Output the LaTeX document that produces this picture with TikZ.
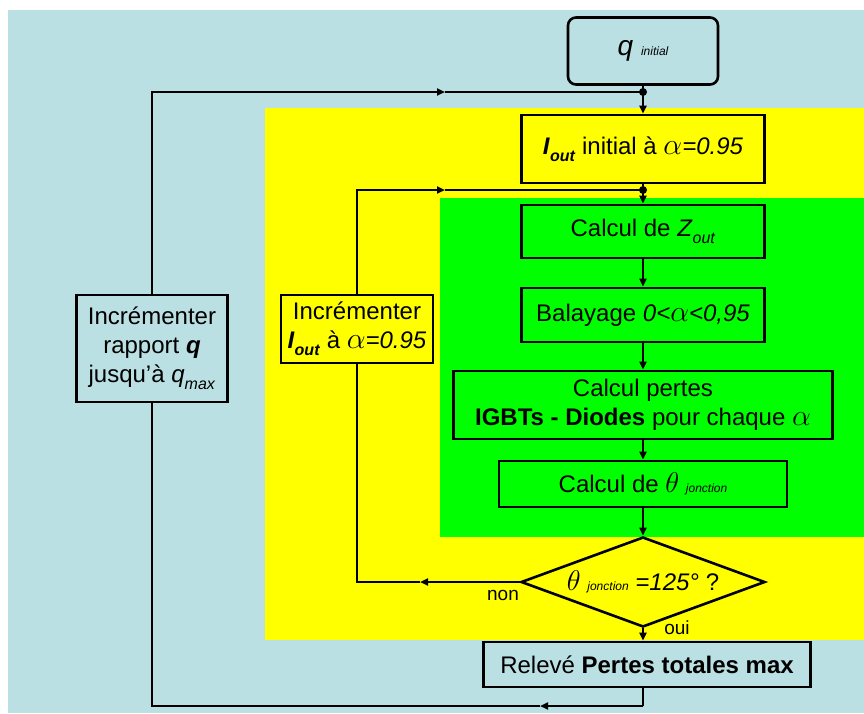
\documentclass[tikz,border=0pt]{standalone}
\usepackage{fontspec}
\setmainfont{Liberation Sans}
\usetikzlibrary{arrows.meta,shapes.geometric}
\definecolor{bgblue}{RGB}{187,224,227}
\definecolor{ylw}{RGB}{255,255,0}
\definecolor{grn}{RGB}{0,255,0}
\newcommand{\subl}[1]{\raisebox{-0.3em}{\fontsize{16}{16}\selectfont #1}}
\newcommand{\subs}[1]{{\fontsize{12}{12}\selectfont\itshape #1}}
\newcommand{\mainsize}{\fontsize{24}{29}\selectfont}
\newcommand{\myal}{\scalebox{1.2}{$\alpha$}}
\newcommand{\myth}{\scalebox{1.15}{$\theta$}}
\tikzset{
  box/.style={draw=black, line width=2.6pt, inner sep=0pt, align=center, font=\mainsize},
  conn/.style={line width=2pt},
  arr/.style={conn, -{Triangle[length=8pt,width=7pt]}},
  lbl/.style={font=\fontsize{19}{21}\selectfont, inner sep=0pt}
}
\begin{document}
\begin{tikzpicture}[x=1pt,y=-1pt]
\useasboundingbox (0,0) rectangle (864,713);
\fill[white] (0,0) rectangle (864,713);
\fill[bgblue] (8,10) rectangle (864,713);
\fill[ylw] (265,108) rectangle (864,640);
\fill[grn] (440,198) rectangle (864,537);

\node[box, rounded corners=8pt, fill=bgblue, minimum width=150pt, minimum height=67pt] (qi) at (643,51)
  {\fontsize{28}{30}\selectfont\itshape q \subs{initial}};
\node[box, fill=ylw, minimum width=243pt, minimum height=68pt] (io) at (643,149)
  {\textbf{\textit{I}}\subl{\textbf{\textit{out}}} initial à \myal\textit{=0.95}};
\node[box, fill=grn, minimum width=243pt, minimum height=53pt] (zo) at (643,231.5)
  {Calcul de \textit{Z}\subl{\textit{out}}};
\node[box, fill=grn, minimum width=243pt, minimum height=54pt] (ba) at (643,315)
  {Balayage \textit{0<}\myal\textit{<0,95}};
\node[box, fill=grn, minimum width=379pt, minimum height=68pt] (pe) at (643,405)
  {Calcul pertes\\ \textbf{IGBTs - Diodes} pour chaque \myal};
\node[box, fill=grn, minimum width=288pt, minimum height=46pt] (th) at (643,484)
  {Calcul de \myth\ \subs{jonction}};
\node[box, diamond, shape aspect=2.7, fill=ylw, minimum width=244pt, minimum height=90pt] (di) at (643,582)
  {\myth\ \subs{jonction} \textit{=125°} ?};
\node[box, fill=bgblue, minimum width=327pt, minimum height=45pt] (re) at (647,664.5)
  {Relevé \textbf{Pertes totales max}};
\node[box, fill=bgblue, minimum width=151pt, minimum height=107pt] (lb) at (152,348.5)
  {Incrémenter\\ rapport \textbf{\textit{q}}\\ jusqu’à \textit{q}\subl{\textit{max}}};
\node[box, fill=ylw, minimum width=152pt, minimum height=68pt] (ib) at (357,329)
  {Incrémenter\\ \textbf{\textit{I}}\subl{\textbf{\textit{out}}} à \myal\textit{=0.95}};

\node[lbl] (non) at (503,595) {non};
\node[lbl] (oui) at (677,628) {oui};

\coordinate (j1) at (643,92);
\coordinate (j2) at (643,190);
\coordinate (m1) at (445,92);
\coordinate (m2) at (445,190);
\coordinate (mb) at (540,706);
\coordinate (mn) at (420,582);
\coordinate (rb) at (643,706);

% main chain
\draw[conn] (qi) -- (j1);
\draw[arr] (j1) -- (io);
\draw[conn] (io) -- (j2);
\draw[arr] (j2) -- (zo);
\draw[arr] (zo) -- (ba);
\draw[arr] (ba) -- (pe);
\draw[arr] (pe) -- (th);
\draw[arr] (th) -- (di);
\draw[arr] (di.south) -- (di.south |- re.north);

% outer loop
\draw[conn] (re.south -| rb) -- (rb);
\draw[arr] (rb) -- (mb);
\draw[conn] (mb) -| (lb.south);
\draw[arr] (lb.north) |- (m1);
\draw[conn] (m1) -- (j1);

% inner loop
\draw[arr] (di.west) -- (mn);
\draw[conn] (mn) -| (ib.south);
\draw[arr] (ib.north) |- (m2);
\draw[conn] (m2) -- (j2);

\fill (j1) circle (4pt);
\fill (j2) circle (4pt);
\end{tikzpicture}
\end{document}
